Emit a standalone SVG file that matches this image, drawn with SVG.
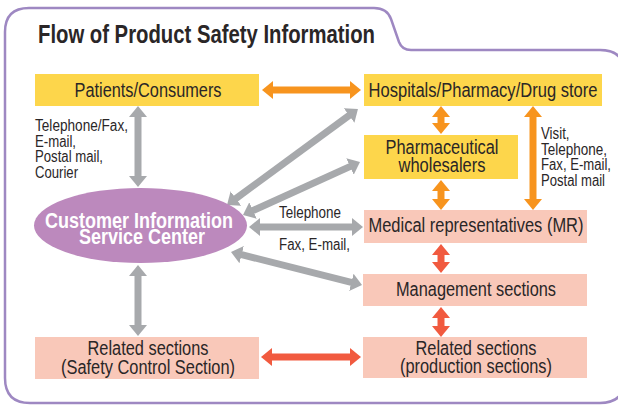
<svg xmlns="http://www.w3.org/2000/svg" width="618" height="405" viewBox="0 0 618 405">
<style>
text{font-family:"Liberation Sans Narrow","Arial Narrow","Liberation Sans",sans-serif;fill:#2a2627}
.t{font-size:25px;font-weight:bold}
.b{font-size:20px;text-anchor:middle}
.s{font-size:16px}
.e{font-size:22px;font-weight:bold;fill:#ffffff;text-anchor:middle}
.y{fill:#fdd64b}
.p{fill:#f9c8b9}
.g{stroke:#a7a9ac;stroke-width:7;fill:none}
.o{stroke:#f7941e;stroke-width:7;fill:none}
.r{stroke:#f15a3f;stroke-width:7;fill:none}
</style>
<defs>
<marker id="hg" markerUnits="userSpaceOnUse" viewBox="0 -10 12 20" markerWidth="12" markerHeight="20" refX="1" refY="0" orient="auto-start-reverse"><path d="M0,-9 L11,0 L0,9 Z" fill="#a7a9ac"/></marker>
<marker id="ho" markerUnits="userSpaceOnUse" viewBox="0 -10 12 20" markerWidth="12" markerHeight="20" refX="1" refY="0" orient="auto-start-reverse"><path d="M0,-9 L11,0 L0,9 Z" fill="#f7941e"/></marker>
<marker id="hr" markerUnits="userSpaceOnUse" viewBox="0 -10 12 20" markerWidth="12" markerHeight="20" refX="1" refY="0" orient="auto-start-reverse"><path d="M0,-9 L11,0 L0,9 Z" fill="#f15a3f"/></marker>
</defs>
<rect width="618" height="405" fill="#ffffff"/>
<path id="frame" d="M5,32 Q5,8 29,8 L374,8 Q387,8 391,19 L399,42 Q402,50 411,50 L600,50 Q625,50 625,75 L625,378 Q625,403 600,403 L30,403 Q5,403 5,378 Z" fill="none" stroke="#9e88c2" stroke-width="2.5"/>
<text class="t" x="38" y="43" textLength="337" lengthAdjust="spacingAndGlyphs">Flow of Product Safety Information</text>

<g id="connectors">
<line class="o" x1="272" y1="90" x2="351" y2="90" marker-start="url(#ho)" marker-end="url(#ho)"/>
<line class="o" x1="441" y1="116" x2="441" y2="124" marker-start="url(#ho)" marker-end="url(#ho)"/>
<line class="o" x1="441" y1="190" x2="441" y2="200" marker-start="url(#ho)" marker-end="url(#ho)"/>
<line class="o" x1="533" y1="116" x2="533" y2="200" marker-start="url(#ho)" marker-end="url(#ho)"/>
<line class="r" x1="441" y1="254" x2="441" y2="263" marker-start="url(#hr)" marker-end="url(#hr)"/>
<line class="r" x1="441" y1="317" x2="441" y2="327" marker-start="url(#hr)" marker-end="url(#hr)"/>
<line class="r" x1="271" y1="357" x2="351" y2="357" marker-start="url(#hr)" marker-end="url(#hr)"/>
<line class="g" x1="138" y1="116" x2="138" y2="177" marker-start="url(#hg)" marker-end="url(#hg)"/>
<line class="g" x1="138" y1="275" x2="138" y2="326" marker-start="url(#hg)" marker-end="url(#hg)"/>
<line class="g" x1="259" y1="227" x2="353" y2="227" marker-start="url(#hg)" marker-end="url(#hg)"/>
<line class="g" x1="235.1" y1="199.1" x2="349.9" y2="114.9" marker-start="url(#hg)" marker-end="url(#hg)"/>
<line class="g" x1="252.1" y1="210.9" x2="350.9" y2="166.1" marker-start="url(#hg)" marker-end="url(#hg)"/>
<line class="g" x1="240.7" y1="254.4" x2="352.3" y2="282.6" marker-start="url(#hg)" marker-end="url(#hg)"/>
<text class="s" x="35" y="131" textLength="93" lengthAdjust="spacingAndGlyphs">Telephone/Fax,</text>
<text class="s" x="35" y="146.5" textLength="41" lengthAdjust="spacingAndGlyphs">E-mail,</text>
<text class="s" x="35" y="162" textLength="68" lengthAdjust="spacingAndGlyphs">Postal mail,</text>
<text class="s" x="35" y="177.5" textLength="43" lengthAdjust="spacingAndGlyphs">Courier</text>
<text class="s" x="541" y="139" textLength="28.5" lengthAdjust="spacingAndGlyphs">Visit,</text>
<text class="s" x="541" y="154.7" textLength="66" lengthAdjust="spacingAndGlyphs">Telephone,</text>
<text class="s" x="541" y="170.4" textLength="70" lengthAdjust="spacingAndGlyphs">Fax, E-mail,</text>
<text class="s" x="541" y="186" textLength="64" lengthAdjust="spacingAndGlyphs">Postal mail</text>
<text class="s" x="279" y="218" textLength="62" lengthAdjust="spacingAndGlyphs">Telephone</text>
<text class="s" x="279" y="250" textLength="71" lengthAdjust="spacingAndGlyphs">Fax, E-mail,</text>
</g>

<g id="patients"><rect class="y" x="35" y="74" width="224" height="32"/><text class="b" x="148" y="97" textLength="147" lengthAdjust="spacingAndGlyphs">Patients/Consumers</text></g>
<g id="hospitals"><rect class="y" x="364" y="74" width="238" height="32"/><text class="b" x="483" y="97" textLength="229" lengthAdjust="spacingAndGlyphs">Hospitals/Pharmacy/Drug store</text></g>
<g id="wholesalers"><rect class="y" x="364" y="135" width="154" height="44"/><text class="b" x="442" y="154" textLength="113" lengthAdjust="spacingAndGlyphs">Pharmaceutical</text><text class="b" x="442" y="172" textLength="87" lengthAdjust="spacingAndGlyphs">wholesalers</text></g>
<g id="mr"><rect class="p" x="364" y="210" width="223" height="33"/><text class="b" x="476" y="232" textLength="215" lengthAdjust="spacingAndGlyphs">Medical representatives (MR)</text></g>
<g id="management"><rect class="p" x="363" y="274" width="224" height="32"/><text class="b" x="476" y="296" textLength="160" lengthAdjust="spacingAndGlyphs">Management sections</text></g>
<g id="related-production"><rect class="p" x="363" y="337" width="224" height="41"/><text class="b" x="476" y="355" textLength="121" lengthAdjust="spacingAndGlyphs">Related sections</text><text class="b" x="476" y="373" textLength="152" lengthAdjust="spacingAndGlyphs">(production sections)</text></g>
<g id="related-safety"><rect class="p" x="35" y="337" width="224" height="42"/><text class="b" x="148" y="355" textLength="121" lengthAdjust="spacingAndGlyphs">Related sections</text><text class="b" x="148" y="374" textLength="174" lengthAdjust="spacingAndGlyphs">(Safety Control Section)</text></g>
<g id="center"><ellipse cx="140.5" cy="225.5" rx="106.5" ry="37.5" fill="#bc89bd"/><text class="e" x="139" y="227.5" textLength="188" lengthAdjust="spacingAndGlyphs">Customer Information</text><text class="e" x="142" y="244" textLength="126" lengthAdjust="spacingAndGlyphs">Service Center</text></g>
</svg>
